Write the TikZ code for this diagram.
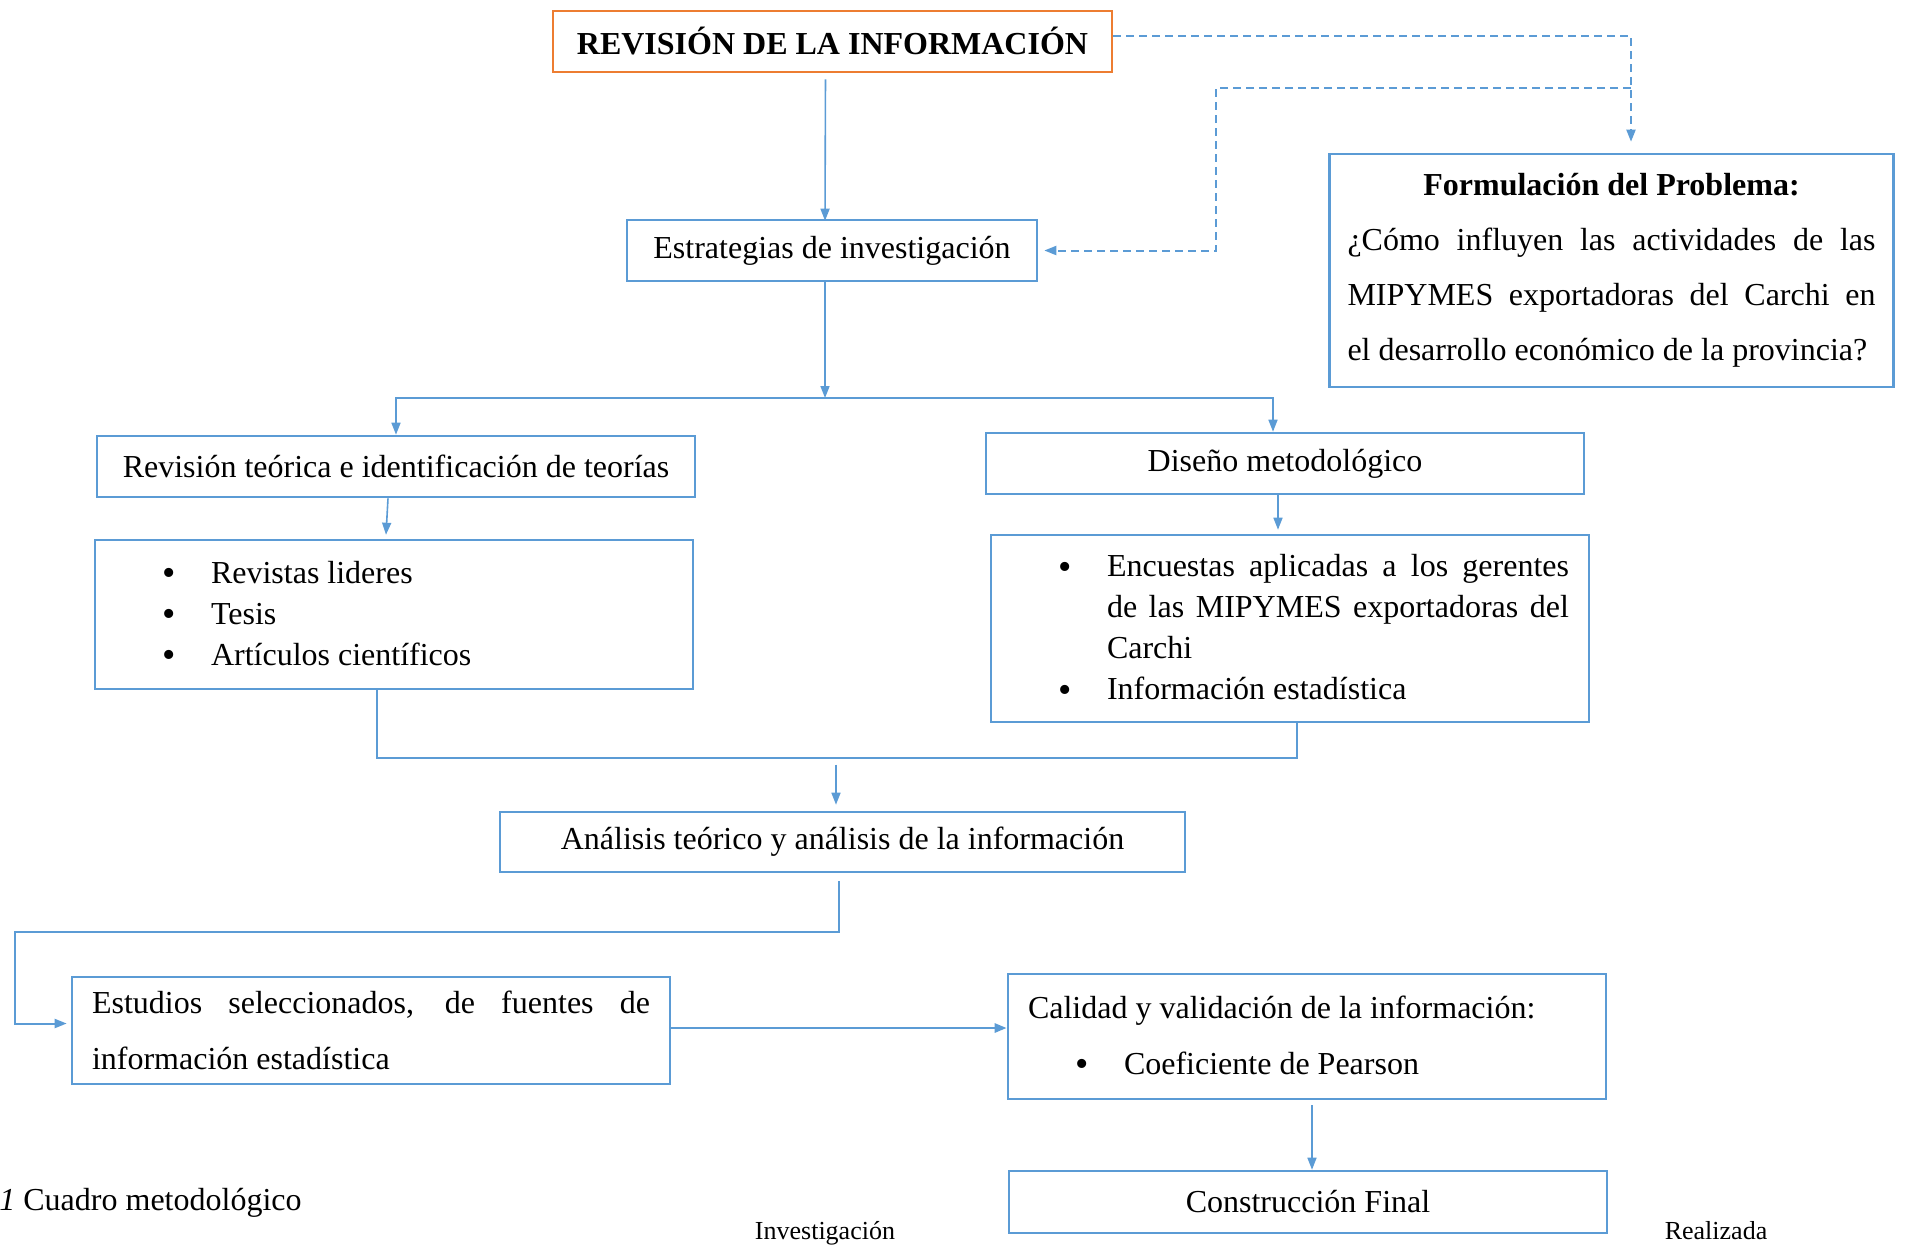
\documentclass[tikz,border=0pt]{standalone}
\usepackage{fontspec}
\setmainfont{Liberation Serif}
\usetikzlibrary{arrows.meta}
\definecolor{blu}{RGB}{91,155,213}
\definecolor{ora}{RGB}{237,125,49}
\newcommand{\bul}[1]{\noindent\hangindent=48pt\hangafter=1\hspace*{23.5pt}\makebox[24.5pt][l]{\raisebox{-1.2pt}{\fontsize{19pt}{0pt}\selectfont\textbullet}}#1}

\begin{document}
\begin{tikzpicture}[x=0.5pt, y=-0.5pt,
  box/.style={draw=blu, line width=1.3pt, inner xsep=10pt, inner ysep=0pt, align=center,
    font=\fontsize{16pt}{20.5pt}\selectfont},
  arr/.style={blu, line width=0.8pt, -{Triangle[length=6pt,width=4.5pt]}},
  dsh/.style={blu, line width=1pt, dash pattern=on 4pt off 2.5pt}]
\useasboundingbox (0,0) rectangle (1906,1244);
\node[box, draw=ora, minimum width=279.5pt, minimum height=30.5pt, font=\fontsize{16pt}{20.5pt}\selectfont\bfseries]
  (rev) at (832.5,41.5) {REVISIÓN DE LA INFORMACIÓN};
\node[box, minimum width=205pt, minimum height=30.5pt] (estr) at (832,250.5) {Estrategias de investigación};
\node[box, inner xsep=9pt, text width=264pt, minimum height=116.5pt, align=justify,
  font=\fontsize{16pt}{27.5pt}\selectfont] (form) at (1611.5,270.5)
  {{\centering\bfseries Formulación del Problema:\par}
   ¿Cómo influyen las actividades de las\linebreak MIPYMES exportadoras del Carchi en\linebreak el desarrollo económico de la provincia?};
\node[box, minimum width=299pt, minimum height=30.5pt] (teo) at (396,466.5) {Revisión teórica e identificación de teorías};
\node[box, text width=279pt, minimum height=74.5pt, align=justify] (lista) at (394,614.5)
  {\bul{Revistas lideres}\par\bul{Tesis}\par\bul{Artículos científicos}};
\node[box, minimum width=299pt, minimum height=30.5pt] (dis) at (1285,463.5) {Diseño metodológico};
\node[box, text width=279pt, minimum height=93.5pt, align=justify] (enc) at (1290,628.5)
  {\bul{Encuestas aplicadas a los gerentes\linebreak de las MIPYMES exportadoras del\linebreak Carchi}\par\bul{Información estadística}};
\node[box, minimum width=342.5pt, minimum height=30pt] (ana) at (842.5,842) {Análisis teórico y análisis de la información};
\node[box, text width=279pt, minimum height=53.5pt, align=justify,
  font=\fontsize{16pt}{28pt}\selectfont] (est) at (371,1030.5)
  {Estudios seleccionados, de fuentes de\linebreak información estadística};
\node[box, text width=279pt, minimum height=62.5pt, align=justify,
  font=\fontsize{16pt}{28pt}\selectfont] (cal) at (1307,1036.5)
  {Calidad y validación de la información:\par\bul{Coeficiente de Pearson}};
\node[box, minimum width=299pt, minimum height=31pt] (con) at (1308,1202) {Construcción Final};
\node[anchor=base west, inner sep=0pt, font=\fontsize{16pt}{20pt}\selectfont] (cap) at (-1,1210) {\textit{1} Cuadro metodológico};
\node[anchor=base, inner sep=0pt, font=\fontsize{13pt}{16pt}\selectfont] (inv) at (825,1239) {Investigación};
\node[anchor=base, inner sep=0pt, font=\fontsize{13pt}{16pt}\selectfont] (rea) at (1716,1239) {Realizada};
\coordinate (dj) at (1631,88);
\coordinate (dk) at (1216,88);
\coordinate (s) at (825,398);
\coordinate (m1) at (377,758);
\coordinate (e1) at (15,932);
\draw[arr, shorten <=3pt] ([xshift=-3.5pt]rev.south) -- ([xshift=-3.5pt, yshift=-1pt]estr.north);
\draw[dsh, -{Triangle[length=6pt,width=4.5pt]}, shorten >=5.5pt] ([yshift=2.75pt]rev.east) -| ([xshift=9.75pt]form.north);
\draw[dsh, -{Triangle[length=6pt,width=4.5pt]}, shorten >=3pt] (dj) -- (dk) |- (estr.east);
\draw[arr, shorten <=-1pt] ([xshift=-3.5pt]estr.south) -- (s);
\draw[arr] (s) -| (teo.north);
\draw[arr] (s) -| ([xshift=-6pt]dis.north);
\draw[arr] ([xshift=-4pt]teo.south) -- ([xshift=-4pt, yshift=2pt]lista.north);
\draw[arr] ([xshift=-3.5pt]dis.south) -- ([xshift=-3.5pt, yshift=2pt]dis.south |- enc.north);
\draw[blu, line width=0.6pt] (lista.south -| m1) -- (m1) -| ([xshift=3.5pt]enc.south);
\draw[arr] ([xshift=-3.25pt, yshift=23pt]ana.north) -- ([xshift=-3.25pt, yshift=3pt]ana.north);
\draw[arr, line width=1pt, shorten >=2pt] ([xshift=-1.75pt, yshift=-4pt]ana.south) |- (e1) |- ([yshift=3.5pt]est.west);
\draw[arr, line width=1.3pt] ([yshift=1.25pt]est.east) -- ([yshift=1.25pt]est.east -| cal.west);
\draw[arr, shorten <=2.5pt] ([xshift=2.5pt]cal.south) -- ([xshift=2.5pt]cal.south |- con.north);
\end{tikzpicture}
\end{document}
